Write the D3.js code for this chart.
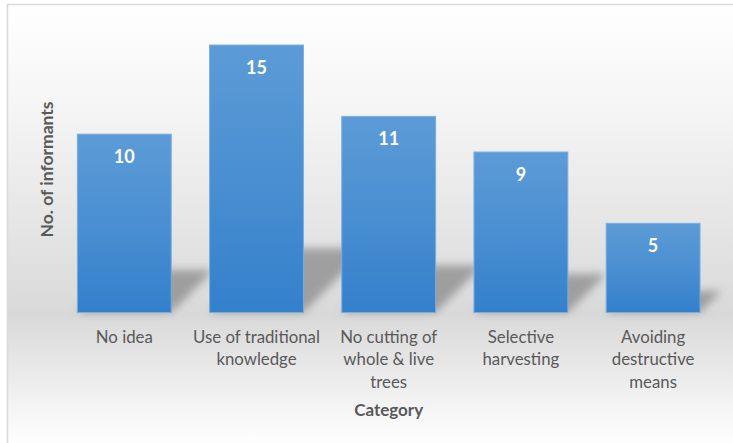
<!DOCTYPE html>
<html>
<head>
<meta charset="utf-8">
<script src="https://cdn.jsdelivr.net/npm/d3@7"></script>
<style>
  html, body { margin: 0; padding: 0; background: #ffffff; }
  svg { display: block; }
</style>
</head>
<body>
<svg id="chart" width="733" height="443"></svg>
<script>
// Categories (line breaks mark where each axis label wraps)
const categories = [
  "No idea",
  "Use of traditional\nknowledge",
  "No cutting of\nwhole & live\ntrees",
  "Selective\nharvesting",
  "Avoiding\ndestructive\nmeans"
];
// Number of informants per category
const informants = [10, 15, 11, 9, 5];
const yAxisTitle = "No. of informants";
const xAxisTitle = "Category";

const W = 733, H = 443;
const FONT = "Lato, 'Open Sans', sans-serif";
const svg = d3.select("#chart");
const defs = svg.append("defs");

// Chart area background: white at top, grey around the floor, back to white
const bg = defs.append("linearGradient")
  .attr("id", "bgGrad").attr("x1", 0).attr("y1", 0).attr("x2", 0).attr("y2", 1);
[[0, "#ffffff"], [0.25, "#f4f4f4"], [0.55, "#e2e2e2"], [0.7, "#d9d9d9"],
 [0.82, "#e8e8e8"], [0.93, "#f7f7f7"], [1, "#ffffff"]]
  .forEach(([o, c]) => bg.append("stop").attr("offset", o).attr("stop-color", c));

// Bar fill: lighter blue at top, deeper blue at base
const barGrad = defs.append("linearGradient")
  .attr("id", "barGrad").attr("x1", 0).attr("y1", 0).attr("x2", 0).attr("y2", 1);
barGrad.append("stop").attr("offset", 0).attr("stop-color", "#5c9bd6");
barGrad.append("stop").attr("offset", 0.5).attr("stop-color", "#4a8fd2");
barGrad.append("stop").attr("offset", 1).attr("stop-color", "#3380cb");

// Soft blur for the cast shadows
defs.append("filter").attr("id", "shadowBlur")
  .attr("x", "-50%").attr("y", "-50%").attr("width", "200%").attr("height", "200%")
  .append("feGaussianBlur").attr("stdDeviation", 4);

// Frame
svg.append("rect")
  .attr("x", 7.5).attr("y", 4.5).attr("width", W).attr("height", H)
  .attr("fill", "url(#bgGrad)")
  .attr("stroke", "#d9d9d9").attr("stroke-width", 1.5);

const x = d3.scaleBand()
  .domain(categories)
  .range([58.2, 719.2])
  .paddingInner(0.29)
  .paddingOuter(0.145);

const y = d3.scaleLinear().domain([0, 16]).range([312.5, 27.2]);

const data = categories.map((c, i) => ({ cat: c, value: informants[i] }));

// Perspective shadows lying on the floor behind each bar
const shadowScale = 0.24, skew = 1.0;
svg.append("g").attr("filter", "url(#shadowBlur)")
  .selectAll("path").data(data).join("path")
  .attr("d", d => {
    const x0 = x(d.cat), x1 = x0 + x.bandwidth();
    const base = y(0);
    const h = (base - y(d.value)) * shadowScale;
    return `M${x0},${base} L${x1},${base} L${x1 + skew * h},${base - h} L${x0 + skew * h},${base - h} Z`;
  })
  .attr("fill", "#8a8a8a")
  .attr("opacity", 0.75);

// Bars
svg.append("g").selectAll("rect").data(data).join("rect")
  .attr("x", d => x(d.cat))
  .attr("y", d => y(d.value))
  .attr("width", x.bandwidth())
  .attr("height", d => y(0) - y(d.value))
  .attr("fill", "url(#barGrad)")
  .attr("stroke", "#78aee0")
  .attr("stroke-width", 1);

// Value labels inside the bars
svg.append("g").selectAll("text").data(data).join("text")
  .attr("x", d => x(d.cat) + x.bandwidth() / 2)
  .attr("y", d => y(d.value) + 29)
  .attr("text-anchor", "middle")
  .attr("font-family", FONT)
  .attr("font-weight", "bold")
  .attr("font-size", 18)
  .attr("fill", "#ffffff")
  .text(d => d.value);

// Category axis labels (no axis line or ticks shown)
const xAxis = d3.axisBottom(x).tickSize(0).tickPadding(0);
const gx = svg.append("g").attr("transform", `translate(0,${y(0)})`).call(xAxis);
gx.select(".domain").remove();
gx.selectAll(".tick text").each(function(d) {
  const t = d3.select(this);
  t.text(null)
    .attr("y", 0)
    .attr("dy", null)
    .attr("font-family", FONT)
    .attr("font-size", 16.8)
    .attr("fill", "#595959");
  d.split("\n").forEach((line, i) => {
    t.append("tspan").attr("x", 0).attr("y", 30 + i * 22.6).text(line);
  });
});

// Axis titles
svg.append("text")
  .attr("x", (58.2 + 719.2) / 2)
  .attr("y", 416)
  .attr("text-anchor", "middle")
  .attr("font-family", FONT)
  .attr("font-weight", "bold")
  .attr("font-size", 17)
  .attr("fill", "#595959")
  .text(xAxisTitle);

svg.append("text")
  .attr("transform", `translate(52.5,${169.5}) rotate(-90)`)
  .attr("text-anchor", "middle")
  .attr("font-family", FONT)
  .attr("font-weight", "bold")
  .attr("font-size", 17.5)
  .attr("fill", "#595959")
  .text(yAxisTitle);
</script>
</body>
</html>
